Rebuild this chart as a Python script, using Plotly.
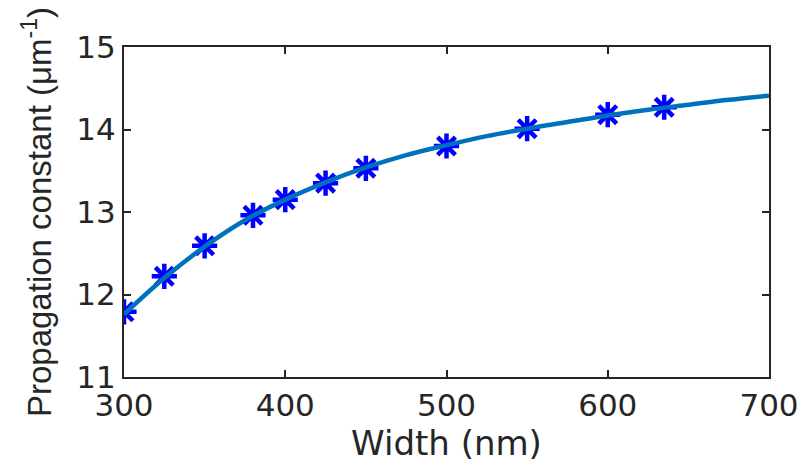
import plotly.graph_objects as go

# Measured points (asterisks)
width_nm = [300, 325, 350, 380, 400, 425, 450, 500, 550, 600, 635]
prop_const = [11.79, 12.22, 12.59, 12.96, 13.15, 13.35, 13.53, 13.80, 14.01, 14.18, 14.27]

# Fitted curve
curve_x = [300, 325, 350, 375, 400, 425, 450, 475, 500, 525, 550, 575, 600, 625, 650, 675, 700]
curve_y = [11.76, 12.20, 12.58, 12.90, 13.15, 13.36, 13.54, 13.69, 13.81, 13.92, 14.01, 14.09, 14.17, 14.24, 14.30, 14.36, 14.41]

x_ticks = [300, 400, 500, 600, 700]
y_ticks = [11, 12, 13, 14, 15]

WIDE = "DejaVu Sans, Liberation Sans, sans-serif"
NARROW = "Liberation Sans, Arial, sans-serif"
AX = "#262626"

fig = go.Figure()
fig.add_trace(go.Scatter(
    x=width_nm, y=prop_const, mode="markers",
    marker=dict(symbol="asterisk-open", size=21, color="#0000FF",
                line=dict(color="#0000FF", width=4.5)),
    showlegend=False,
))
fig.add_trace(go.Scatter(
    x=curve_x, y=curve_y, mode="lines",
    line=dict(color="#0072BD", width=4.5, shape="spline", smoothing=1.0),
    showlegend=False,
))

axis_common = dict(
    showgrid=False, zeroline=False, showline=True, linecolor=AX, linewidth=2,
    mirror="ticks", ticks="inside", ticklen=7, tickwidth=1.5, tickcolor=AX,
    tickfont=dict(family=WIDE, size=31, color=AX), automargin=False,
)
fig.update_xaxes(range=[300, 700], tickvals=x_ticks,
                 title=dict(text="Width (nm)", font=dict(family=WIDE, size=34, color=AX), standoff=0),
                 **axis_common)
fig.update_yaxes(range=[11, 15], tickvals=y_ticks,
                 title=dict(text="Propagation constant (μm<sup>-1</sup>)",
                            font=dict(family=NARROW, size=33, color=AX), standoff=15),
                 **axis_common)

fig.update_layout(
    width=803, height=465,
    margin=dict(l=124, r=34, t=47, b=88),
    paper_bgcolor="white", plot_bgcolor="white",
)
fig.write_html("out.html")
